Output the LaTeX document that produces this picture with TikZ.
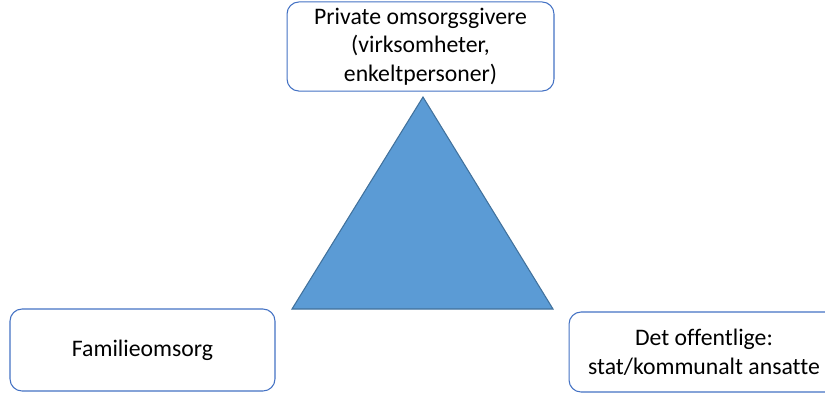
\documentclass[tikz,border=0pt]{standalone}
\usepackage{fontspec}
\setmainfont[Ligatures=NoCommon]{Carlito}
\usepackage{tikz}

\definecolor{boxline}{HTML}{4472C4}
\definecolor{trifill}{HTML}{5B9BD5}
\definecolor{triline}{HTML}{41719C}

\begin{document}
\begin{tikzpicture}
  [x=0.02cm,y=-0.02cm,
   every node/.style={draw=boxline,fill=white,rounded corners=0.24cm,
     align=center,font=\fontsize{13.5}{16.3}\selectfont,line width=0.6pt}]
  \clip (0,0) rectangle (825,393);

  \node[minimum width=5.34cm,minimum height=1.74cm] (privat) at (420.5,46.5)
    {Private omsorgsgivere\\(virksomheter,\\enkeltpersoner)};
  \node[minimum width=5.3cm,minimum height=1.64cm] (familie) at (142.5,350)
    {Familieomsorg};
  \node[minimum width=5.4cm,minimum height=1.6cm] (offentlig) at (704,352)
    {Det offentlige:\\stat/kommunalt ansatte};

  % trekanten
  \coordinate (topp) at (423,97);
  \coordinate (venstre) at (292,309);
  \coordinate (hoyre) at (553,309);
  \draw[fill=trifill,draw=triline,line width=0.6pt] (topp) -- (venstre) -- (hoyre) -- cycle;

\end{tikzpicture}
\end{document}
